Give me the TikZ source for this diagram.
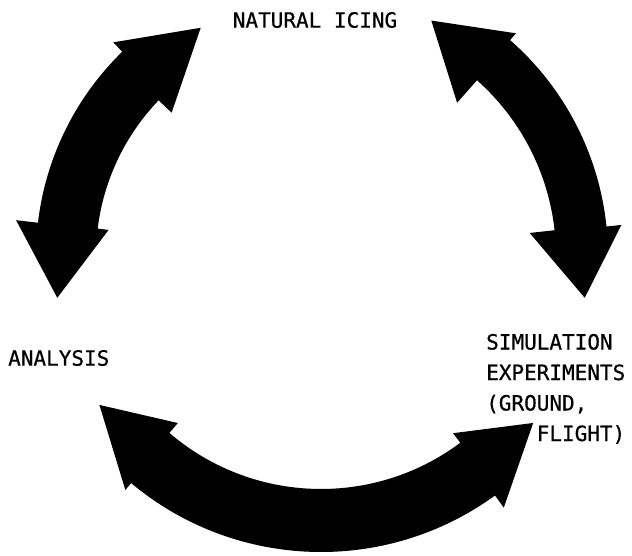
\documentclass[tikz,border=0pt]{standalone}
\usepackage{fontspec}
\newfontfamily\typewr[FakeBold=0.6]{DejaVu Sans Mono}
\begin{document}
\begin{tikzpicture}[x=1pt, y=-1pt, bigarrow/.style={fill=black},
  every node/.append style={font=\typewr\fontsize{21}{30.5}\selectfont, inner sep=0pt}]
  \useasboundingbox (0,0) rectangle (632,555);
  \coordinate (hub) at (321,256);
  \node (icing) at (315,20) {NATURAL ICING};
  \node[anchor=west] (analysis) at (8,358) {ANALYSIS};
  \node[anchor=base west, align=left] (simexp) at (486,441)
    {SIMULATION\\EXPERIMENTS\\(GROUND,\\\phantom{XXXX}FLIGHT)};
  \begin{scope}[shift={(hub)}]
    % analysis <-> natural icing
    \fill[bigarrow] (186.7:285) arc[start angle=186.7, end angle=225.8, radius=285]
      -- (225.8:298) -- (242.2:258) -- (223.8:207) -- (223.8:225)
      arc[start angle=223.8, end angle=187, radius=225]
      -- (187:214) -- (171:267) -- (186.7:307) -- cycle;
    % natural icing <-> simulation
    \fill[bigarrow] (311.2:287) arc[start angle=311.2, end angle=354.1, radius=287]
      -- (354.1:302) -- (369:267) -- (353.7:210) -- (353.7:235)
      arc[start angle=353.7, end angle=311.6, radius=235]
      -- (311.6:205) -- (295.1:260) -- (311.2:296) -- cycle;
    % simulation <-> analysis
    \fill[bigarrow] (54:296) arc[start angle=54, end angle=129.9, radius=296]
      -- (129.9:305) -- (146.1:267) -- (130.6:220) -- (130.6:233)
      arc[start angle=130.6, end angle=53.3, radius=233]
      -- (53.3:221) -- (38.2:270) -- (54:311) -- cycle;
  \end{scope}
\end{tikzpicture}
\end{document}
